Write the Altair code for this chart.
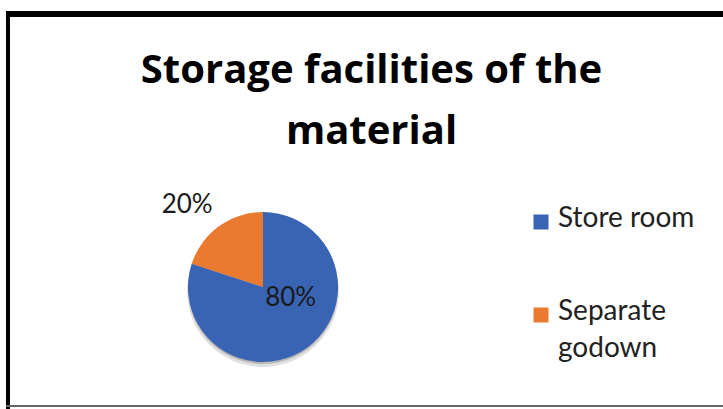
import altair as alt
import pandas as pd

categories = ["Store room", "Separate godown"]
shares = [80, 20]
pct_labels = ["80%", "20%"]
colors = ["#3963b3", "#ea7a30"]
title_lines = ["Storage facilities of the", "material"]

df = pd.DataFrame({
    "category": categories,
    "share": shares,
    "label": pct_labels,
    "idx": list(range(len(categories))),
})

CX, CY, R = 263, 287, 75

legend = alt.Legend(
    title=None, orient="none", legendX=527, legendY=205,
    symbolType="M-1,-0.6H1V1.4H-1Z", symbolSize=225, symbolStrokeWidth=0,
    labelFont="Lato", labelFontSize=28, labelColor="#222222",
    labelOffset=3, rowPadding=65, padding=0, labelLimit=300,
    labelExpr="datum.label == 'Separate godown' ? ['Separate', 'godown'] : datum.label",
)

base = alt.Chart(df).encode(
    theta=alt.Theta("share:Q", stack=True),
    order=alt.Order("idx:Q"),
)

shadow1 = base.mark_arc(radius=R + 1, color="#000000", opacity=0.12, stroke=None).encode(
    x=alt.value(CX), y=alt.value(CY + 4))
shadow2 = base.mark_arc(radius=R, color="#000000", opacity=0.18, stroke=None).encode(
    x=alt.value(CX), y=alt.value(CY + 2))

pie = base.mark_arc(radius=R, stroke=None).encode(
    color=alt.Color("category:N", scale=alt.Scale(domain=categories, range=colors), legend=legend),
    x=alt.value(CX), y=alt.value(CY),
)

lab_in = base.transform_calculate(
    t="datum.category == 'Store room' ? datum.label : ''"
).mark_text(radius=30, dx=10, dy=-13, font="Lato", fontSize=26, color="#1a1a1a").encode(
    text="t:N", x=alt.value(CX), y=alt.value(CY),
)

lab_out = base.transform_calculate(
    t="datum.category == 'Separate godown' ? datum.label : ''"
).mark_text(radius=112, dx=-10, dy=9, font="Lato", fontSize=26, color="#1a1a1a").encode(
    text="t:N", x=alt.value(CX), y=alt.value(CY),
)

one = pd.DataFrame({"k": [0]})
top_rule = alt.Chart(one).mark_rule(color="black", strokeWidth=6).encode(
    x=alt.value(6), x2=alt.value(723), y=alt.value(14))
left_rule = alt.Chart(one).mark_rule(color="black", strokeWidth=4).encode(
    x=alt.value(8), y=alt.value(11), y2=alt.value(409))
bottom_rule = alt.Chart(one).mark_rule(color="#666666", strokeWidth=2).encode(
    x=alt.value(6), x2=alt.value(723), y=alt.value(406))

chart = alt.layer(shadow1, shadow2, pie, lab_in, lab_out, top_rule, left_rule, bottom_rule).properties(
    width=723, height=409,
    padding=0,
    autosize=alt.AutoSizeParams(type="none"),
    background="white",
    title=alt.TitleParams(
        text=title_lines, font="Open Sans", fontSize=40, fontWeight="bold", color="#000000",
        anchor="middle", frame="group", dx=10, dy=184, offset=0, baseline="alphabetic",
        lineHeight=61,
    ),
).configure(style={"guide-label": {"lineHeight": 37}}).configure_view(stroke=None)

chart.save("out.html", embed_options={"renderer": "svg", "actions": False})
